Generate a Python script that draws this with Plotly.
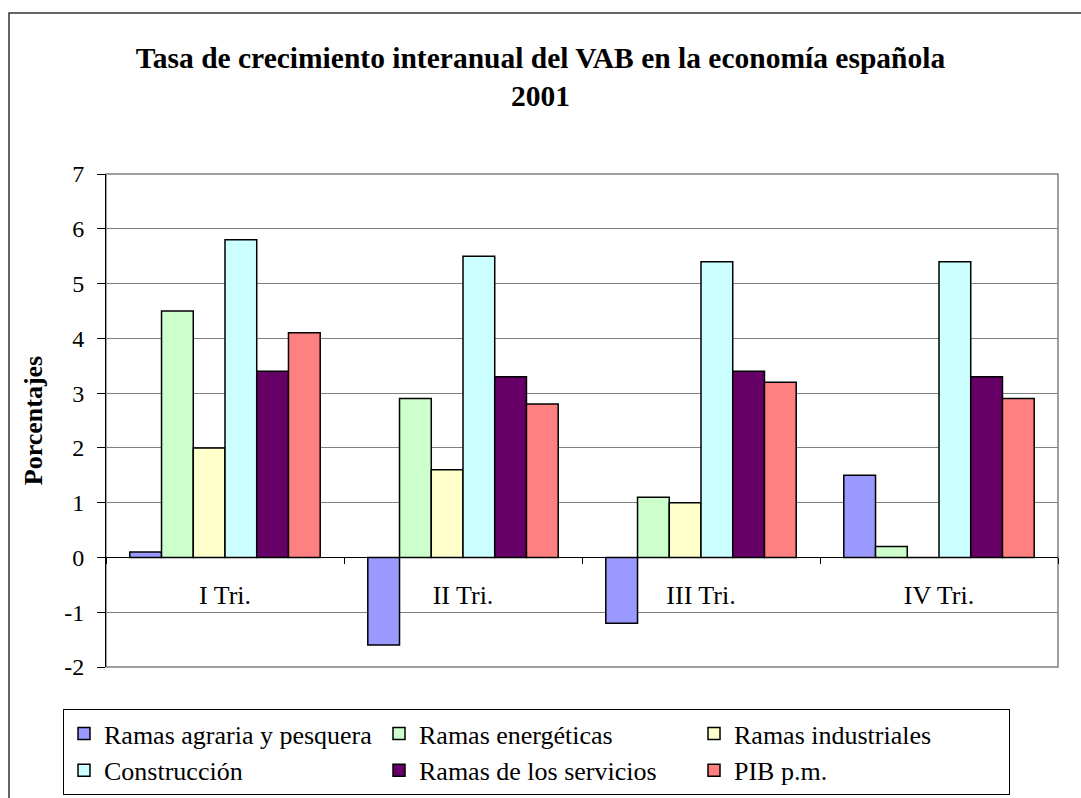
import plotly.graph_objects as go

categories = ["I Tri.", "II Tri.", "III Tri.", "IV Tri."]
series_names = ["Ramas agraria y pesquera", "Ramas energéticas", "Ramas industriales",
                "Construcción", "Ramas de los servicios", "PIB p.m."]
agraria = [0.1, -1.6, -1.2, 1.5]
energeticas = [4.5, 2.9, 1.1, 0.2]
industriales = [2.0, 1.6, 1.0, 0.0]
construccion = [5.8, 5.5, 5.4, 5.4]
servicios = [3.4, 3.3, 3.4, 3.3]
pib = [4.1, 2.8, 3.2, 2.9]
colors = ["#9999FF", "#CCFFCC", "#FFFFCC", "#CCFFFF", "#660066", "#FF8080"]
y_ticks = [-2, -1, 0, 1, 2, 3, 4, 5, 6, 7]
y_tick_labels = ["-2", "-1", "0", "1", "2", "3", "4", "5", "6", "7"]
y_min, y_max = -2, 7

FONT = "Liberation Serif"

fig = go.Figure()
for name, vals, col in zip(series_names,
                           [agraria, energeticas, industriales, construccion, servicios, pib],
                           colors):
    fig.add_trace(go.Bar(x=categories, y=vals, name=name,
                         marker=dict(color=col, line=dict(color="black", width=1.5))))

L, R, T, B = 106, 1081 - 1058, 174, 798 - 667
W = 1081 - L - R
H = 798 - T - B
zero_pos = (0 - y_min) / (y_max - y_min)

fig.update_layout(
    width=1081, height=798,
    margin=dict(l=L, r=R, t=T, b=B, autoexpand=False),
    paper_bgcolor="white", plot_bgcolor="white",
    font=dict(family=FONT, size=25, color="black"),
    title=dict(text="<b>Tasa de crecimiento interanual del VAB en la economía española<br>2001</b>",
               x=0.5, xref="container", xanchor="center",
               y=1 - 67.5 / 798, yref="container", yanchor="middle",
               font=dict(family=FONT, size=29.5, color="black")),
    barmode="group", bargap=0.2, bargroupgap=0,
    xaxis=dict(type="category", anchor="free", position=zero_pos,
               showline=True, linecolor="black", linewidth=1,
               ticks="outside", tickson="boundaries", ticklen=6, tickcolor="black",
               ticklabelstandoff=14,
               showgrid=False, tickfont=dict(family=FONT, size=26, color="black"), zeroline=False),
    yaxis=dict(range=[y_min, y_max], tickmode="array", tickvals=y_ticks, ticktext=y_tick_labels,
               showline=True, linecolor="black", linewidth=1,
               ticks="outside", ticklen=8, tickcolor="black", ticklabelstandoff=8,
               showgrid=True, gridcolor="#808080", gridwidth=1, zeroline=False,
               tickfont=dict(family=FONT, size=24, color="black"),
               title=dict(text="<b>Porcentajes</b>", font=dict(family=FONT, size=26, color="black"),
                          standoff=14)),
    legend=dict(orientation="h", x=(63 - L) / W, xanchor="left",
                y=-(709 - 667) / H, yanchor="top",
                bordercolor="black", borderwidth=1, bgcolor="white",
                entrywidth=270, entrywidthmode="pixels",
                font=dict(family=FONT, size=26, color="black"), traceorder="normal"),
    showlegend=True,
)

# plot area border (gray)
fig.add_shape(type="rect", xref="paper", yref="paper", x0=0, x1=1, y0=0, y1=1,
              line=dict(color="#808080", width=1.5), layer="below")
# outer chart frame
fig.add_shape(type="rect", xref="paper", yref="paper",
              x0=(9 - L) / W, x1=(1100 - L) / W,
              y0=-(830 - 667) / H, y1=(667 - 13) / H,
              line=dict(color="#333333", width=1.5), layer="below")

fig.write_html("out.html", config={"displayModeBar": False},
               post_script="document.body.style.margin='0px';")
